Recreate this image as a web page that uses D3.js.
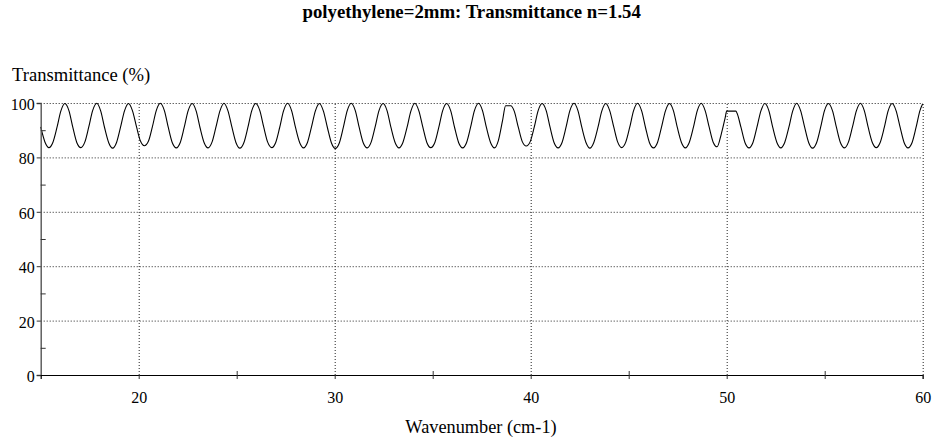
<!DOCTYPE html>
<html>
<head>
<meta charset="utf-8">
<script src="https://cdn.jsdelivr.net/npm/d3@7"></script>
<style>
  html, body { margin: 0; padding: 0; background: #fff; }
  svg { display: block; }
</style>
</head>
<body>
<svg id="chart" width="937" height="442"></svg>
<script>
// Spectrum samples: wavenumber (cm-1) and transmittance (%)
const wavenumber = [
  15.00, 15.22, 15.42, 15.62, 15.83, 16.03,
  16.23, 16.44, 16.64, 16.84, 17.05, 17.25, 17.45, 17.65,
  17.86, 18.06, 18.26, 18.47, 18.67, 18.87, 19.07, 19.28,
  19.48, 19.68, 19.89, 20.09, 20.29, 20.50, 20.70, 20.90,
  21.10, 21.31, 21.51, 21.71, 21.92, 22.12, 22.32, 22.52,
  22.73, 22.93, 23.13, 23.34, 23.54, 23.74, 23.94, 24.15,
  24.35, 24.55, 24.76, 24.96, 25.16, 25.37, 25.57, 25.77,
  25.97, 26.18, 26.38, 26.58, 26.79, 26.99, 27.19, 27.39,
  27.60, 27.80, 28.00, 28.21, 28.41, 28.61, 28.81, 29.02,
  29.22, 29.42, 29.63, 29.83, 30.03, 30.24, 30.44, 30.64,
  30.84, 31.05, 31.25, 31.45, 31.66, 31.86, 32.06, 32.26,
  32.47, 32.67, 32.87, 33.08, 33.28, 33.48, 33.69, 33.89,
  34.09, 34.29, 34.50, 34.70, 34.90, 35.11, 35.31, 35.51,
  35.71, 35.92, 36.12, 36.32, 36.53, 36.73, 36.93, 37.13,
  37.34, 37.54, 37.74, 37.95, 38.15, 38.35, 38.56, 38.72,
  38.98, 39.16, 39.37, 39.57, 39.77, 39.98, 40.18, 40.38,
  40.58, 40.79, 40.99, 41.19, 41.40, 41.60, 41.80, 42.00,
  42.21, 42.41, 42.61, 42.82, 43.02, 43.22, 43.43, 43.63,
  43.83, 44.03, 44.24, 44.44, 44.64, 44.85, 45.05, 45.25,
  45.45, 45.66, 45.86, 46.06, 46.27, 46.47, 46.67, 46.88,
  47.08, 47.28, 47.48, 47.69, 47.89, 48.09, 48.30, 48.50,
  48.70, 48.90, 49.11, 49.31, 49.51, 49.72, 49.92, 50.00,
  50.47, 50.53, 50.73, 50.93, 51.14, 51.34, 51.54, 51.75,
  51.95, 52.15, 52.35, 52.56, 52.76, 52.96, 53.17, 53.37,
  53.57, 53.77, 53.98, 54.18, 54.38, 54.59, 54.79, 54.99,
  55.19, 55.40, 55.60, 55.80, 56.01, 56.21, 56.41, 56.62,
  56.82, 57.02, 57.22, 57.43, 57.63, 57.83, 58.04, 58.24,
  58.44, 58.64, 58.85, 59.05, 59.25, 59.46, 59.66, 59.86,
  60.00
];

const transmittance = [
  91.2, 85.6, 83.6, 85.5, 91.0, 97.1,
  99.8, 97.2, 91.0, 85.5, 83.6, 85.6, 91.1, 97.2,
  99.9, 97.1, 90.9, 85.4, 83.4, 85.5, 91.0, 97.2,
  99.8, 97.2, 91.2, 86.0, 84.3, 86.0, 91.3, 97.3,
  99.9, 97.2, 91.0, 85.5, 83.5, 85.5, 91.0, 97.1,
  99.8, 97.1, 90.9, 85.4, 83.5, 85.6, 91.1, 97.2,
  99.9, 97.2, 91.0, 85.5, 83.4, 85.5, 91.0, 97.2,
  99.8, 97.2, 91.1, 85.6, 83.6, 85.5, 90.9, 97.1,
  99.9, 97.2, 91.0, 85.5, 83.5, 85.5, 91.0, 97.2,
  99.8, 97.1, 90.9, 85.4, 83.3, 85.4, 91.0, 97.2,
  99.9, 97.2, 91.0, 85.5, 83.5, 85.6, 91.1, 97.2,
  99.8, 97.2, 91.0, 85.5, 83.5, 85.5, 91.0, 97.1,
  99.9, 97.2, 91.0, 85.5, 83.6, 85.5, 91.0, 97.2,
  99.8, 97.1, 90.9, 85.5, 83.5, 85.5, 91.0, 97.2,
  99.9, 97.2, 91.0, 85.5, 83.5, 86.2, 93.4, 99.0,
  99.0, 97.0, 91.0, 85.8, 84.2, 85.9, 91.1, 97.2,
  99.8, 97.2, 91.0, 85.5, 83.5, 85.5, 91.0, 97.2,
  99.9, 97.2, 91.0, 85.5, 83.4, 85.5, 91.0, 97.1,
  99.8, 97.2, 91.1, 85.6, 83.6, 85.6, 91.0, 97.2,
  99.9, 97.1, 90.9, 85.4, 83.5, 85.5, 91.0, 97.2,
  99.8, 97.2, 91.0, 85.5, 83.5, 85.5, 91.0, 97.2,
  99.9, 97.2, 91.0, 85.6, 83.9, 88.5, 94.5, 97.0,
  97.0, 96.2, 91.0, 85.5, 83.5, 85.5, 91.0, 97.2,
  99.8, 97.2, 91.0, 85.5, 83.5, 85.5, 91.0, 97.1,
  99.9, 97.2, 91.0, 85.5, 83.4, 85.5, 91.0, 97.2,
  99.8, 97.1, 91.0, 85.5, 83.5, 85.6, 91.0, 97.2,
  99.9, 97.2, 91.0, 85.5, 83.6, 85.5, 91.0, 97.2,
  99.8, 97.2, 91.0, 85.5, 83.5, 85.5, 91.0, 97.2,
  99.7
];

const xMajorTicks = [20, 30, 40, 50, 60];
const xMinorTicks = [25, 35, 45, 55];
const yMajorTicks = [0, 20, 40, 60, 80, 100];
const yMinorTicks = [10, 30, 50, 70, 90];

const titleText = "polyethylene=2mm: Transmittance n=1.54";
const xTitle = "Wavenumber (cm-1)";
const yTitle = "Transmittance (%)";

const FONT = "Liberation Serif";

const W = 937, H = 442;
const margin = { top: 103, right: 14.3, bottom: 67, left: 40.7 };
const iw = W - margin.left - margin.right;
const ih = H - margin.top - margin.bottom;

const svg = d3.select("#chart");

const x = d3.scaleLinear().domain([15, 60]).range([0, iw]);
const y = d3.scaleLinear().domain([0, 100]).range([ih, 0]);

const g = svg.append("g").attr("transform", `translate(${margin.left},${margin.top})`);

// dotted grid
const gridY = g.append("g")
  .call(d3.axisLeft(y).tickValues(yMajorTicks.filter(v => v > 0)).tickSize(-iw).tickFormat(""));
gridY.select(".domain").remove();
gridY.selectAll("line").attr("stroke", "#222").attr("stroke-dasharray", "1,2");

const gridX = g.append("g")
  .attr("transform", `translate(0,${ih})`)
  .call(d3.axisBottom(x).tickValues(xMajorTicks).tickSize(-ih).tickFormat(""));
gridX.select(".domain").remove();
gridX.selectAll("line").attr("stroke", "#222").attr("stroke-dasharray", "1,2");

// transmittance curve
const pts = wavenumber.map((w, i) => [w, transmittance[i]]);
g.append("path")
  .datum(pts)
  .attr("fill", "none")
  .attr("stroke", "#000")
  .attr("stroke-width", 1.1)
  .attr("d", d3.line().x(d => x(d[0])).y(d => y(d[1])).curve(d3.curveMonotoneX));

// y axis
const yAxis = g.append("g")
  .call(d3.axisLeft(y).tickValues(yMajorTicks).tickSize(4).tickPadding(2).tickFormat(d3.format("d")));
yAxis.select(".domain").attr("stroke", "#555").attr("stroke-width", 1.4);
yAxis.selectAll("line").attr("stroke", "#333");
yAxis.selectAll("text")
  .attr("dy", "0.4em")
  .style("font-size", "16px")
  .style("font-family", FONT)
  .style("fill", "#000");

const yMinor = g.append("g")
  .call(d3.axisLeft(y).tickValues(yMinorTicks).tickSize(-5).tickFormat(""));
yMinor.select(".domain").remove();
yMinor.selectAll("line").attr("stroke", "#333");

// x axis
const xAxis = g.append("g")
  .attr("transform", `translate(0,${ih})`)
  .call(d3.axisBottom(x).tickValues(xMajorTicks).tickSize(4).tickPadding(13).tickFormat(d3.format("d")));
xAxis.select(".domain").attr("stroke", "#000").attr("stroke-width", 1.2);
xAxis.selectAll("line").attr("stroke", "#333");
xAxis.selectAll("text")
  .style("font-size", "16px")
  .style("font-family", FONT)
  .style("fill", "#000");

const xMinor = g.append("g")
  .attr("transform", `translate(0,${ih - 4})`)
  .call(d3.axisBottom(x).tickValues(xMinorTicks).tickSize(8).tickFormat(""));
xMinor.select(".domain").remove();
xMinor.selectAll("line").attr("stroke", "#333");

// titles
svg.append("text")
  .attr("x", 471.7).attr("y", 18)
  .attr("text-anchor", "middle")
  .style("font-family", FONT)
  .style("font-size", "18.8px").style("font-weight", "bold")
  .text(titleText);

svg.append("text")
  .attr("x", 12).attr("y", 81)
  .style("font-family", FONT)
  .style("font-size", "18.6px")
  .text(yTitle);

svg.append("text")
  .attr("x", 481).attr("y", 433)
  .attr("text-anchor", "middle")
  .style("font-family", FONT)
  .style("font-size", "18.3px")
  .text(xTitle);
</script>
</body>
</html>
